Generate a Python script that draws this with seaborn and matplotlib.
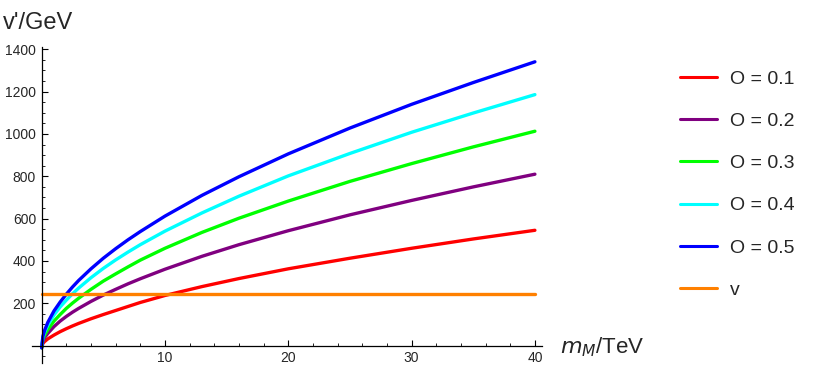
import numpy as np
import pandas as pd
import matplotlib
matplotlib.use("Agg")
import matplotlib.pyplot as plt
import seaborn as sns
from matplotlib.ticker import MultipleLocator, FixedLocator
from matplotlib.lines import Line2D

# x values (m_M in TeV)
m_M = [0, 0.1, 0.25, 0.5, 1, 1.5, 2, 2.5, 3, 4, 5, 6, 7, 8, 10, 13, 16, 20, 25, 30, 35, 40]

# v' (GeV) for each O value
v_O01 = [-10, 11, 20, 32, 50, 66, 80, 93, 105, 127, 147, 166, 185, 204, 237, 279, 317, 363, 413, 460, 504, 545]
v_O02 = [-10, 22, 39, 58, 90, 116, 138, 158, 176, 209, 239, 266, 292, 316, 361, 422, 477, 543, 618, 686, 750, 810]
v_O03 = [-10, 30, 51, 76, 116, 147, 176, 201, 224, 266, 305, 339, 372, 404, 460, 535, 602, 683, 776, 860, 939, 1013]
v_O04 = [-10, 39, 66, 97, 145, 183, 215, 245, 272, 321, 365, 405, 442, 477, 541, 627, 706, 802, 908, 1008, 1099, 1186]
v_O05 = [-10, 44, 74, 110, 164, 206, 243, 277, 308, 363, 413, 458, 500, 539, 612, 710, 798, 906, 1028, 1140, 1243, 1341]
v_higgs = [246] * len(m_M)

labels = ["O = 0.1", "O = 0.2", "O = 0.3", "O = 0.4", "O = 0.5", "v"]
colors = ["#ff0000", "#800080", "#00ff00", "#00ffff", "#0000ff", "#ff8000"]
series = [v_O01, v_O02, v_O03, v_O04, v_O05, v_higgs]

frames = []
for lab, vals in zip(labels, series):
    frames.append(pd.DataFrame({"m": m_M, "v": vals, "series": lab}))
df = pd.concat(frames, ignore_index=True)

sns.set_theme(style="white")
plt.rcParams["font.family"] = ["Liberation Sans", "DejaVu Sans"]

fig = plt.figure(figsize=(8.19, 3.74), dpi=100)
ax = fig.add_axes([31.8 / 819, 1 - 363 / 374, (542.3 - 31.8) / 819, (363 - 47.2) / 374])

sns.lineplot(data=df, x="m", y="v", hue="series", hue_order=labels,
             palette=dict(zip(labels, colors)), linewidth=2.4, ax=ax, legend=False)

ax.set_xlim(-0.8, 40.6)
ax.set_ylim(-82, 1410)

for s in ["top", "right"]:
    ax.spines[s].set_visible(False)
ax.spines["left"].set_position(("data", 0))
ax.spines["bottom"].set_position(("data", 0))
for s in ["left", "bottom"]:
    ax.spines[s].set_color("black")
    ax.spines[s].set_linewidth(0.9)

ax.xaxis.set_major_locator(FixedLocator([10, 20, 30, 40]))
ax.xaxis.set_minor_locator(FixedLocator([2, 4, 6, 8, 12, 14, 16, 18, 22, 24, 26, 28, 32, 34, 36, 38]))
ax.yaxis.set_major_locator(FixedLocator([200, 400, 600, 800, 1000, 1200, 1400]))
ax.yaxis.set_minor_locator(MultipleLocator(50))
ax.tick_params(axis="both", which="major", direction="in", length=4.5, width=0.8,
               color="black", labelsize=10, pad=4, bottom=True, left=True)
ax.tick_params(axis="both", which="minor", direction="in", length=2.5, width=0.6,
               color="black", bottom=True, left=True)
ax.set_xlabel("")
ax.set_ylabel("")
ax.grid(False)

fig.text(3 / 819, 1 - 29 / 374, "v'/GeV", fontsize=17, ha="left", va="baseline")
fig.text(560 / 819, 1 - 353 / 374, r"$m_M$/TeV", fontsize=16, ha="left", va="baseline")

handles = [Line2D([0], [0], color=c, lw=2.2) for c in colors]
fig.legend(handles, labels, loc="center left", bbox_to_anchor=(680 / 819, 1 - 184.5 / 374),
           frameon=False, fontsize=14, handlelength=1.9, handletextpad=0.65,
           labelspacing=1.27, borderpad=0, borderaxespad=0)

fig.savefig("out.png", dpi=100)
